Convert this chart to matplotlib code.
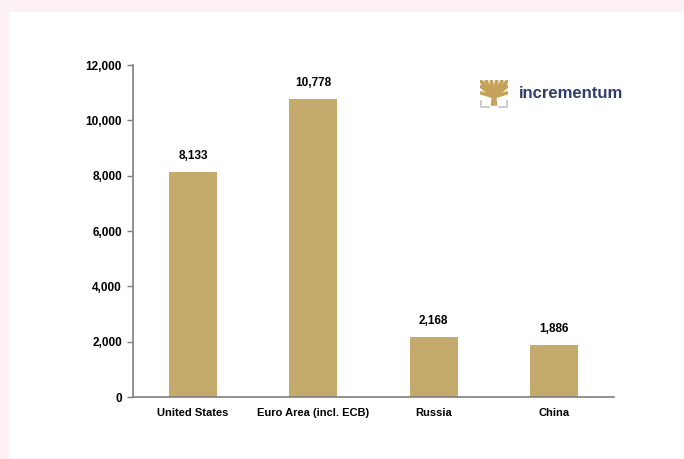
import matplotlib.pyplot as plt
from matplotlib.patches import Rectangle, Polygon
import numpy as np

plt.rcParams['font.family'] = ['Liberation Sans', 'DejaVu Sans']

# Данные
categories = ["United States", "Euro Area (incl. ECB)", "Russia", "China"]
values = [8133, 10778, 2168, 1886]
y_ticks = [0, 2000, 4000, 6000, 8000, 10000, 12000]

bar_color = '#C4AA6C'
axis_color = '#7F7F7F'

fig = plt.figure(figsize=(6.84, 4.59), dpi=100)
fig.patch.set_facecolor('#FDF1F3')
# белая панель
fig.patches.append(Rectangle((9 / 684, 0), 1, 1 - 12 / 459, transform=fig.transFigure,
                             facecolor='white', edgecolor='none', zorder=-10))

ax = fig.add_axes([133 / 684, 1 - 397 / 459, (614 - 133) / 684, (397 - 65) / 459])
ax.set_facecolor('none')

x = np.arange(len(categories))
ax.bar(x, values, width=0.4, color=bar_color, zorder=2)

for xi, v in zip(x, values):
    ax.text(xi, v + 350, f"{v:,}", ha='center', va='bottom', fontsize=8.5,
            fontweight='bold', color='black')

ax.set_xlim(-0.5, len(categories) - 0.5)
ax.set_ylim(0, 12000)
ax.set_yticks(y_ticks)
ax.set_yticklabels([f"{t:,}" for t in y_ticks], fontsize=8.5, fontweight='bold')
ax.set_xticks(x)
ax.set_xticklabels(categories, fontsize=8, fontweight='bold')

for s in ['top', 'right']:
    ax.spines[s].set_visible(False)
for s in ['left', 'bottom']:
    ax.spines[s].set_color(axis_color)
    ax.spines[s].set_linewidth(1.2)
ax.tick_params(axis='y', direction='out', length=4, color=axis_color, width=1, pad=4)
ax.tick_params(axis='x', length=0, pad=8)

# логотип
lax = fig.add_axes([480 / 684, 1 - 108 / 459, 28 / 684, 28 / 459])
lax.set_xlim(0, 1)
lax.set_ylim(0, 1)
lax.axis('off')
gold = '#C4A25A'
lax.add_patch(Polygon([[0.38, 0.08], [0.62, 0.08], [0.58, 0.45], [0.42, 0.45]],
                      closed=True, facecolor=gold, edgecolor='none'))
# ветви до краёв квадрата
ends = [(0.0, 0.55), (0.0, 0.8), (0.0, 1.0), (0.2, 1.0), (0.4, 1.0), (0.6, 1.0),
        (0.8, 1.0), (1.0, 1.0), (1.0, 0.8), (1.0, 0.55)]
for ex, ey in ends:
    lax.plot([0.5, ex], [0.4, ey], color=gold, lw=2.6, solid_capstyle='butt')
lax.plot([0.05, 0.05, 0.33], [0.25, 0.02, 0.02], color='#C8C8C8', lw=1.3)
lax.plot([0.67, 0.95, 0.95], [0.02, 0.02, 0.25], color='#C8C8C8', lw=1.3)
fig.text(519 / 684, 1 - 94 / 459, "incrementum", fontsize=12, fontweight='bold',
         color='#2E3D6B', ha='left', va='center')

fig.savefig('out.png', dpi=100, facecolor=fig.get_facecolor())
